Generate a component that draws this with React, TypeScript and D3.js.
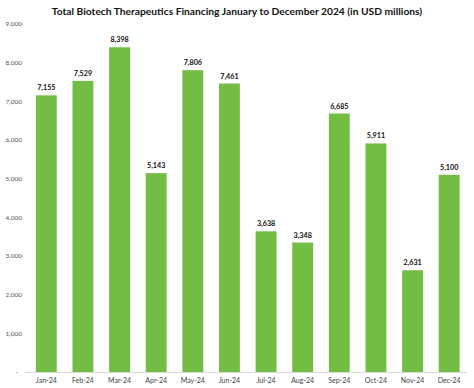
import React from "react";
import * as d3 from "d3";

const months = ["Jan-24","Feb-24","Mar-24","Apr-24","May-24","Jun-24","Jul-24","Aug-24","Sep-24","Oct-24","Nov-24","Dec-24"];
const values = [7155, 7529, 8398, 5143, 7806, 7461, 3638, 3348, 6685, 5911, 2631, 5100];
const yTicks = [0, 1000, 2000, 3000, 4000, 5000, 6000, 7000, 8000, 9000];
const title = "Total Biotech Therapeutics Financing January to December 2024 (in USD millions)";

export default function App() {
  const W = 474, H = 388;
  const x = d3.scaleBand<string>().domain(months).range([28, 467.5]).paddingInner(0.43).paddingOuter(0.215);
  const y = d3.scaleLinear().domain([0, 9000]).range([372, 24]);
  const fmt = d3.format(",");
  const font = "Lato, 'Open Sans', sans-serif";
  return (
    <svg width={W} height={H} style={{ position: "absolute", left: 0, top: 0, background: "#fff" }} fontFamily={font}>
      <text x={237} y={15} textAnchor="middle" fontSize={10.25} fontWeight={700} fill="#111">{title}</text>
      {yTicks.map(t => (
        <text key={t} x={t === 0 ? 18 : 22} y={y(t)} dy="0.35em" textAnchor="end" fontSize={6.5} fill="#555">
          {t === 0 ? "-" : fmt(t)}
        </text>
      ))}
      {months.map((m, i) => (
        <g key={m}>
          <rect x={x(m)} y={y(values[i])} width={x.bandwidth()} height={y(0) - y(values[i])} fill="#74bd44" />
          <text x={(x(m) as number) + x.bandwidth() / 2} y={y(values[i]) - 5} textAnchor="middle" fontSize={7.2} fontWeight={700} fill="#111">
            {fmt(values[i])}
          </text>
          <text x={(x(m) as number) + x.bandwidth() / 2} y={383} textAnchor="middle" fontSize={7} fill="#444">{m}</text>
        </g>
      ))}
      <line x1={25} x2={467} y1={y(0) + 0.5} y2={y(0) + 0.5} stroke="#d9d9d9" strokeWidth={1} />
    </svg>
  );
}
